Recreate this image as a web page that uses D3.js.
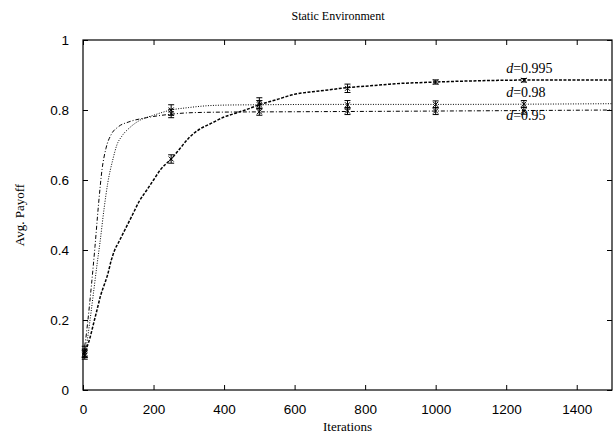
<!DOCTYPE html>
<html>
<head>
<meta charset="utf-8">
<script src="https://cdn.jsdelivr.net/npm/d3@7"></script>
<style>
  body { margin: 0; background: #fff; }
  svg { font-family: "Liberation Serif", "Times New Roman", serif; }
  .tick text { font-size: 13.5px; fill: #000; }
</style>
</head>
<body>
<div id="chart"></div>
<script>
// Series: [iteration, avg payoff]
const iters995 = [0, 10, 20, 30, 40, 50, 60, 70, 80, 90, 100, 120, 140, 160, 180, 200, 220, 250, 275, 300, 330, 360, 400, 430, 460, 500, 550, 600, 650, 700, 750, 800, 850, 900, 950, 1000, 1100, 1200, 1300, 1400, 1500];
const vals995 = [0.10, 0.12, 0.15, 0.19, 0.23, 0.27, 0.30, 0.33, 0.37, 0.40, 0.42, 0.46, 0.50, 0.54, 0.57, 0.60, 0.63, 0.66, 0.69, 0.72, 0.745, 0.76, 0.78, 0.79, 0.80, 0.815, 0.83, 0.845, 0.852, 0.858, 0.864, 0.868, 0.872, 0.876, 0.878, 0.88, 0.883, 0.885, 0.886, 0.886, 0.886];

const iters98 = [0, 10, 20, 30, 40, 48, 60, 70, 85, 96, 110, 133, 160, 200, 250, 300, 350, 400, 500, 700, 1000, 1500];
const vals98 = [0.10, 0.13, 0.20, 0.28, 0.36, 0.42, 0.52, 0.59, 0.66, 0.70, 0.725, 0.75, 0.77, 0.785, 0.80, 0.807, 0.812, 0.814, 0.815, 0.816, 0.816, 0.818];

const iters95 = [0, 7, 14, 24, 34, 44, 54, 65, 80, 100, 130, 180, 250, 300, 400, 600, 1000, 1500];
const vals95 = [0.10, 0.14, 0.20, 0.30, 0.41, 0.53, 0.63, 0.69, 0.73, 0.752, 0.766, 0.778, 0.788, 0.792, 0.794, 0.795, 0.797, 0.800];

// Error bars: iteration, mean, half width
const errIters = [5, 250, 500, 750, 1000, 1250];
const err995 = [[0.11, 0.015], [0.66, 0.012], [0.82, 0.015], [0.862, 0.012], [0.88, 0.006], [0.885, 0.005]];
const err98 = [[0.10, 0.012], [0.80, 0.015], [0.815, 0.012], [0.815, 0.012], [0.816, 0.01], [0.817, 0.01]];
const err95 = [[0.105, 0.012], [0.79, 0.012], [0.795, 0.01], [0.797, 0.01], [0.797, 0.01], [0.798, 0.01]];

const xTicks = [0, 200, 400, 600, 800, 1000, 1200, 1400];
const yTicks = [0, 0.2, 0.4, 0.6, 0.8, 1];
const seriesLabels = ["0.995", "0.98", "0.95"];
const labelValues = [0.905, 0.838, 0.772];

const width = 616, height = 436;
const margin = {top: 40, right: 4, bottom: 46, left: 83};
const w = width - margin.left - margin.right;
const h = height - margin.top - margin.bottom;

const svg = d3.select("#chart").append("svg")
    .attr("width", width)
    .attr("height", height);

const g = svg.append("g")
    .attr("transform", `translate(${margin.left},${margin.top})`);

const x = d3.scaleLinear().domain([0, 1500]).range([0, w]);
const y = d3.scaleLinear().domain([0, 1]).range([h, 0]);

// Axes with inward ticks on all four sides
g.append("g")
    .attr("transform", `translate(0,${h})`)
    .call(d3.axisBottom(x).tickValues(xTicks).tickSizeInner(-5).tickSizeOuter(0).tickPadding(14).tickFormat(d3.format("d")));
g.append("g")
    .call(d3.axisTop(x).tickValues(xTicks).tickSizeInner(-5).tickSizeOuter(0).tickFormat(""));
g.append("g")
    .call(d3.axisLeft(y).tickValues(yTicks).tickSizeInner(-5).tickSizeOuter(0).tickPadding(14).tickFormat(d3.format("")));
g.append("g")
    .attr("transform", `translate(${w},0)`)
    .call(d3.axisRight(y).tickValues(yTicks).tickSizeInner(-5).tickSizeOuter(0).tickFormat(""));
g.selectAll(".domain").remove();
g.selectAll(".tick line").attr("stroke", "#000");

g.append("rect")
    .attr("width", w)
    .attr("height", h)
    .attr("fill", "none")
    .attr("stroke", "#000")
    .attr("stroke-width", 1.2);

const line = d3.line()
    .curve(d3.curveMonotoneX)
    .x(d => x(d[0]))
    .y(d => y(d[1]));

const series = [
    {iters: iters995, vals: vals995, err: err995, dash: "3,1.5", sw: 1.5},
    {iters: iters98, vals: vals98, err: err98, dash: "1,1.5", sw: 1},
    {iters: iters95, vals: vals95, err: err95, dash: "4,2,1,2", sw: 1}
];

series.forEach(s => {
    g.append("path")
        .datum(s.iters.map((t, i) => [t, s.vals[i]]))
        .attr("d", line)
        .attr("fill", "none")
        .attr("stroke", "#000")
        .attr("stroke-width", s.sw)
        .attr("stroke-dasharray", s.dash);

    // Error bars with small cross markers
    const eb = g.append("g");
    errIters.forEach((t, i) => {
        const [m, e] = s.err[i];
        const cx = x(t);
        eb.append("line").attr("x1", cx).attr("x2", cx)
            .attr("y1", y(m - e)).attr("y2", y(m + e))
            .attr("stroke", "#000");
        [m - e, m + e].forEach(v => {
            eb.append("line").attr("x1", cx - 3).attr("x2", cx + 3)
                .attr("y1", y(v)).attr("y2", y(v))
                .attr("stroke", "#000");
        });
        eb.append("path")
            .attr("d", `M${cx - 2.5},${y(m) - 2.5}L${cx + 2.5},${y(m) + 2.5}M${cx - 2.5},${y(m) + 2.5}L${cx + 2.5},${y(m) - 2.5}`)
            .attr("stroke", "#000");
    });
});

// Series labels
seriesLabels.forEach((lab, i) => {
    const t = g.append("text")
        .attr("x", x(1200))
        .attr("y", y(labelValues[i]))
        .attr("font-size", 14);
    t.append("tspan").attr("font-style", "italic").text("d");
    t.append("tspan").text("=" + lab);
});

// Titles
svg.append("text")
    .attr("x", 338)
    .attr("y", 20)
    .attr("text-anchor", "middle")
    .attr("font-size", 12)
    .text("Static Environment");

svg.append("text")
    .attr("x", margin.left + w / 2)
    .attr("y", 431)
    .attr("text-anchor", "middle")
    .attr("font-size", 13)
    .text("Iterations");

svg.append("text")
    .attr("transform", `translate(24,${margin.top + h / 2}) rotate(-90)`)
    .attr("text-anchor", "middle")
    .attr("font-size", 13)
    .text("Avg. Payoff");
</script>
</body>
</html>
